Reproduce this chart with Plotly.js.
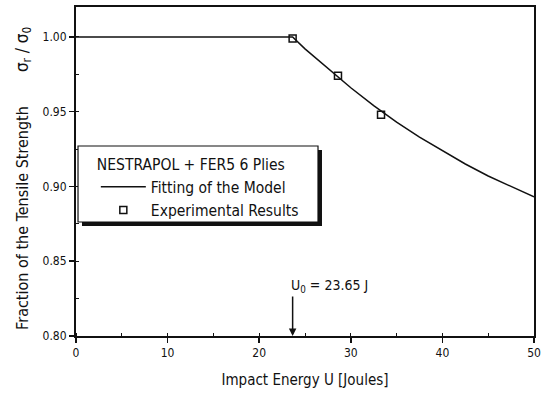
<!DOCTYPE html>
<html><head><meta charset="utf-8">
<script src="https://cdn.plot.ly/plotly-3.0.1.min.js"></script>
<style>html,body{margin:0;padding:0;background:#fff;}#chart{width:546px;height:396px;}</style>
</head><body><div id="chart"></div>
<script>
// Fitted model curve
const modelU = [0, 5, 10, 15, 20, 23.65, 25, 27.5, 30, 32.5, 35, 37.5, 40, 42.5, 45, 47.5, 50];
const modelS = [1.0, 1.0, 1.0, 1.0, 1.0, 1.0, 0.992, 0.979, 0.966, 0.954, 0.943, 0.933, 0.924, 0.915, 0.907, 0.900, 0.893];
// Experimental results
const expU = [23.65, 28.6, 33.3];
const expS = [0.999, 0.974, 0.948];
const U0 = 23.65;
const U0label = 'U<sub>0</sub> = 23.65 J';
const legendTitle = 'NESTRAPOL + FER5 6 Plies';
const xTitle = 'Impact Energy U [Joules]';
const yTitle = 'Fraction of the Tensile Strength';
const yTitle2 = 'σ<sub>r</sub> / σ<sub>0</sub>';

const F = '"DejaVu Sans Condensed", "Liberation Sans Narrow", sans-serif';

const traces = [
  {x: modelU, y: modelS, mode: 'lines', name: 'Fitting of the Model',
   line: {color: '#111', width: 1.5}},
  {x: expU, y: expS, mode: 'markers', name: 'Experimental Results',
   marker: {symbol: 'square-open', size: 7, color: '#111', line: {width: 1.5, color: '#111'}}}
];

const layout = {
  width: 546, height: 396,
  margin: {l: 76, r: 12, t: 7, b: 60},
  paper_bgcolor: '#fff', plot_bgcolor: '#fff',
  font: {family: F, color: '#111', size: 12},
  showlegend: true,
  legend: {
    x: 0.004, y: 0.5653, xanchor: 'left', yanchor: 'top',
    bgcolor: 'rgba(0,0,0,0)', borderwidth: 0,
    font: {family: F, size: 15.5, color: '#111'},
    title: {text: legendTitle, side: 'top center', font: {family: F, size: 15.5, color: '#111'}},
    indentation: 18, itemwidth: 45, tracegroupgap: 0
  },
  xaxis: {
    range: [0, 50], dtick: 10, tick0: 0,
    showline: true, linecolor: '#111', linewidth: 2, mirror: true,
    ticks: 'outside', ticklen: 5, tickwidth: 1.5, tickcolor: '#111',
    minor: {dtick: 5, ticks: 'inside', ticklen: 3, tickcolor: '#111', tickwidth: 1},
    showgrid: false, zeroline: false,
    tickfont: {family: F, size: 12},
    title: {text: xTitle, font: {family: F, size: 15}, standoff: 15}
  },
  yaxis: {
    range: [0.80, 1.02], dtick: 0.05, tick0: 0.8, tickformat: '.2f',
    showline: true, linecolor: '#111', linewidth: 2, mirror: true,
    ticks: 'outside', ticklen: 5, tickwidth: 1.5, tickcolor: '#111',
    minor: {dtick: 0.025, ticks: 'inside', ticklen: 3, tickcolor: '#111', tickwidth: 1},
    showgrid: false, zeroline: false,
    tickfont: {family: F, size: 12}
  },
  annotations: [
    {x: U0, y: 0.80, xref: 'x', yref: 'y', ax: 0, ay: -41, text: '', showarrow: true,
     arrowhead: 2, arrowsize: 1, arrowwidth: 1.5, arrowcolor: '#111'},
    {x: U0, y: 0.80, xref: 'x', yref: 'y', xshift: -4, yshift: 50, text: U0label, showarrow: false,
     xanchor: 'left', yanchor: 'middle', font: {family: F, size: 14}},
    {xref: 'paper', yref: 'paper', x: -0.1157, y: 0.359, xanchor: 'center', yanchor: 'middle',
     text: yTitle, textangle: -90, showarrow: false, font: {family: F, size: 16}},
    {xref: 'paper', yref: 'paper', x: -0.1157, y: 0.872, xanchor: 'center', yanchor: 'middle',
     text: yTitle2, textangle: -90, showarrow: false, font: {family: F, size: 17}}
  ],
  shapes: [
    {type: 'rect', xref: 'paper', yref: 'paper', x0: 0.0131, x1: 0.5371, y0: 0.334, y1: 0.5653,
     fillcolor: '#111', line: {width: 0}, layer: 'above'},
    {type: 'rect', xref: 'paper', yref: 'paper', x0: 0.0044, x1: 0.5284, y0: 0.3465, y1: 0.5775,
     fillcolor: '#fff', line: {width: 1.2, color: '#111'}, layer: 'above'}
  ]
};

Plotly.newPlot('chart', traces, layout, {displayModeBar: false, staticPlot: true});
</script></body></html>
